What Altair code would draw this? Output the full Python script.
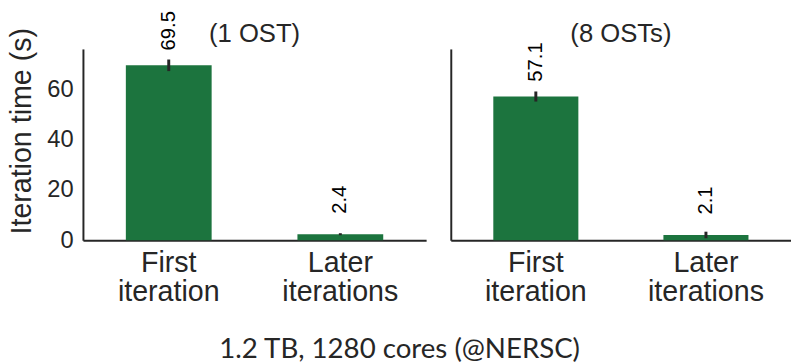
import altair as alt
import pandas as pd

configs = ["(1 OST)", "(1 OST)", "(8 OSTs)", "(8 OSTs)"]
phases = ["First iteration", "Later iterations", "First iteration", "Later iterations"]
times = [69.5, 2.4, 57.1, 2.1]
errors = [2.3, 0.4, 2.0, 1.3]
value_labels = ["69.5", "2.4", "57.1", "2.1"]
phase_order = ["First iteration", "Later iterations"]
y_ticks = [0, 20, 40, 60]

df = pd.DataFrame({
    "config": configs,
    "phase": phases,
    "time": times,
    "err": errors,
    "label": value_labels,
})
df["lo"] = df["time"] - df["err"]
df["hi"] = df["time"] + df["err"]

GREEN = "#1c743e"
DARK = "#262626"
FONT = "Liberation Sans"


def panel(cfg, left, width):
    base = alt.Chart(df).transform_filter(alt.datum.config == cfg)
    xaxis = alt.Axis(title=None, labelAngle=0, labelExpr="split(datum.label, ' ')",
                     labelFontSize=29, labelLineHeight=29, labelPadding=9,
                     ticks=False, domain=True, domainColor=DARK, domainWidth=2,
                     labelColor=DARK, labelFont=FONT, grid=False)
    if left:
        yaxis = alt.Axis(title="Iteration time (s)", values=y_ticks, ticks=False,
                         labelFontSize=24, labelPadding=10, labelColor=DARK, labelFont=FONT,
                         titleFontSize=29, titleFont=FONT, titleColor=DARK,
                         titleFontWeight="normal", titlePadding=10, titleY=83,
                         domainColor=DARK, domainWidth=2, grid=False)
    else:
        yaxis = alt.Axis(title=None, labels=False, ticks=False, values=y_ticks,
                         domainColor=DARK, domainWidth=2, grid=False)
    xs = alt.X("phase:N", sort=phase_order,
               scale=alt.Scale(paddingInner=0.5, paddingOuter=0.25), axis=xaxis)
    yscale = alt.Scale(domain=[0, 76], nice=False)
    bars = base.mark_bar(color=GREEN).encode(
        x=xs, y=alt.Y("time:Q", scale=yscale, axis=yaxis))
    err = base.mark_rule(color=DARK, strokeWidth=3).encode(
        x=xs, y=alt.Y("lo:Q", scale=yscale, axis=yaxis), y2="hi:Q")
    txt = base.mark_text(angle=270, dx=35, align="center", baseline="middle",
                         fontSize=20.5, font=FONT, color="black").encode(
        x=xs, y=alt.Y("time:Q", scale=yscale, axis=yaxis), text="label:N")
    ttl = alt.Chart(pd.DataFrame({"t": [cfg]})).mark_text(
        align="center", baseline="bottom", fontSize=26, font=FONT, color=DARK
    ).encode(x=alt.value(width / 2), y=alt.value(-2), text="t:N")
    return alt.layer(bars, err, txt, ttl).properties(width=width, height=194)


chart = alt.hconcat(panel("(1 OST)", True, 348), panel("(8 OSTs)", False, 345),
                    spacing=25).properties(
    padding=0,
    title=alt.TitleParams("1.2 TB, 1280 cores (@NERSC)", orient="bottom",
                          anchor="middle", fontSize=28, font="Lato",
                          fontWeight="normal", color=DARK, offset=30),
).configure_view(stroke=None)

chart.save("out.html", embed_options={"renderer": "svg", "actions": False})
